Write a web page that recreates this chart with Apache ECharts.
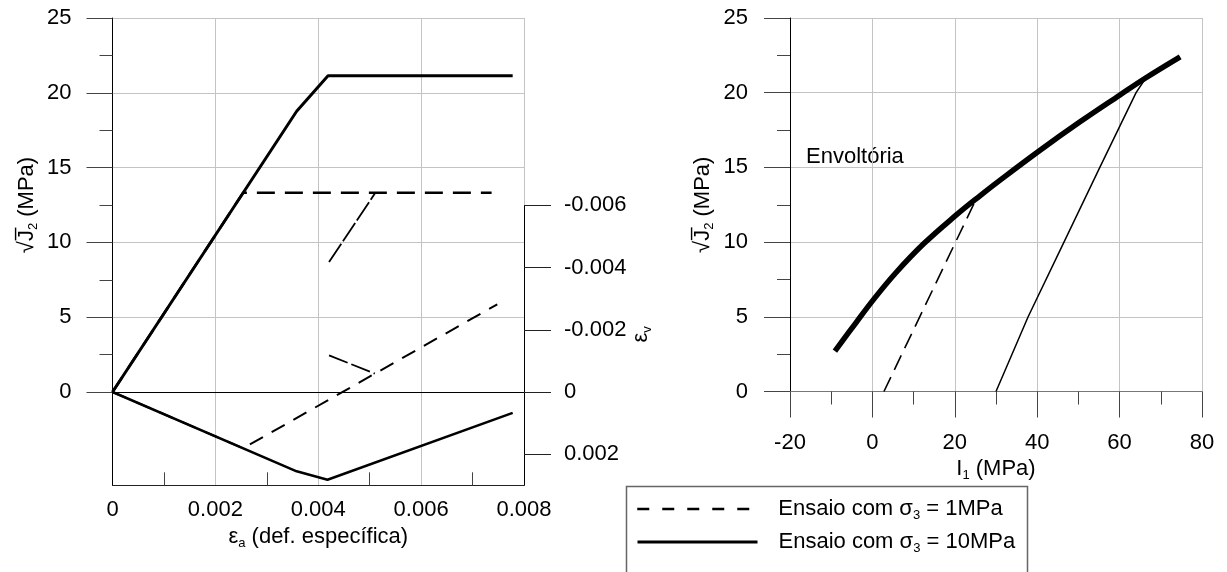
<!DOCTYPE html>
<html><head><meta charset="utf-8">
<script src="https://cdn.jsdelivr.net/npm/echarts@6/dist/echarts.min.js"></script>
<style>html,body{margin:0;padding:0;background:#fff}#c{width:1227px;height:572px}</style>
</head><body><div id="c"></div>
<script>
// ---- Left chart: sqrt(J2) vs axial strain (left axis) ----
const j2Test1Strain  = [0, 0.00254, 0.00737];
const j2Test1Value   = [0, 13.32, 13.32];
const j2Test1bStrain = [0.00421, 0.0051];
const j2Test1bValue  = [8.69, 13.27];
const j2Test10Strain = [0, 0.00358, 0.00419, 0.00778];
const j2Test10Value  = [0, 18.77, 21.14, 21.14];
// ---- Left chart: volumetric strain (right axis, inverted) ----
const evTest1Strain  = [0, 0.00254, 0.00748];
const evTest1Value   = [0, 0.00181, -0.00282];
const evTest1bStrain = [0.00421, 0.0051];
const evTest1bValue  = [-0.00118, -0.00059];
const evTest10Strain = [0, 0.00358, 0.00418, 0.00778];
const evTest10Value  = [0, 0.00255, 0.00282, 0.00067];
const evTicks = [-0.006, -0.004, -0.002, 0, 0.002];
// ---- Right chart: I1 vs sqrt(J2) ----
const envI1 = [-9.1, -4.0, 0.4, 5.7, 12.5, 20.3, 26.1, 31.0, 40.7, 50.4, 60.1, 66.4, 74.7];
const envJ2 = [2.7, 4.6, 6.2, 7.95, 9.9, 11.8, 13.1, 14.15, 16.15, 18.05, 19.85, 21.0, 22.4];
const path1I1 = [2.8, 25.4];
const path1J2 = [0, 13.0];
const path10I1 = [30, 37.8, 46.5, 55.2, 64.0, 66.4];
const path10J2 = [0, 5, 10, 15, 20, 21.0];
// ---- labels ----
const name1 = 'Ensaio com σ3 = 1MPa';
const name10 = 'Ensaio com σ3 = 10MPa';
const envLabel = 'Envoltória';

const zip = (a, b) => a.map((v, i) => [v, b[i]]);
const FONT = 'Liberation Sans, Arial, sans-serif';
const FS = 22;
const GRIDC = '#c4c4c4';
const TICKC = '#444';
const baseText = {fontFamily: FONT, fontSize: FS, color: '#000'};
const rich = {
  n: {fontFamily: FONT, fontSize: FS, color: '#000', lineHeight: 26},
  s: {fontFamily: FONT, fontSize: 13, color: '#000', lineHeight: 13, verticalAlign: 'bottom'},
  g: {fontFamily: FONT, fontSize: FS, color: '#000', lineHeight: 26}
};
const sqrtJ2Name = '{n|√J\u0305}{s|2}{n| (MPa)}';
const legendFmt = function (n) {
  const p = n.split('σ3');
  return '{n|' + p[0] + '}{g|σ}{s|3}{n|' + p[1] + '}';
};
const legendBase = {
  orient: 'vertical', left: 636, padding: 0,
  itemWidth: 120, itemHeight: 14, itemGap: 9,
  formatter: legendFmt,
  textStyle: {padding: [0, 0, 0, 16], rich: rich}
};

const option = {
  animation: false,
  backgroundColor: '#fff',
  textStyle: {fontFamily: FONT},
  grid: [
    {left: 112.5, right: 703, top: 18, height: 374},
    {left: 112.5, right: 703, top: 205.4, height: 279.9},
    {left: 790, right: 25, top: 18, height: 373.5}
  ],
  xAxis: [
    {gridIndex: 0, type: 'value', min: 0, max: 0.008, interval: 0.002,
     axisLine: {show: true, onZero: false, lineStyle: {color: '#000', width: 1}},
     axisTick: {show: false}, axisLabel: {show: false},
     splitLine: {show: true, lineStyle: {color: GRIDC, width: 1}}},
    {gridIndex: 1, type: 'value', min: 0, max: 0.008, interval: 0.002, position: 'bottom',
     name: '{g|ε}{s|a}{n| (def. específica)}', nameLocation: 'middle', nameGap: 39,
     nameTextStyle: {rich: rich},
     axisLine: {show: true, onZero: false, lineStyle: {color: '#222', width: 1}},
     axisTick: {show: false, inside: true},
     minorTick: {show: true, splitNumber: 2, length: 13, lineStyle: {color: TICKC, width: 1}},
     axisLabel: Object.assign({margin: 14}, baseText),
     splitLine: {show: true, lineStyle: {color: GRIDC, width: 1}}},
    {gridIndex: 2, type: 'value', min: -20, max: 80, interval: 20,
     name: '{n|I}{s|1}{n| (MPa)}', nameLocation: 'middle', nameGap: 64,
     nameTextStyle: {rich: rich},
     axisLine: {show: true, onZero: false, lineStyle: {color: '#777', width: 1}},
     axisTick: {show: true, length: 26, lineStyle: {color: TICKC}},
     minorTick: {show: true, splitNumber: 2, length: 13, lineStyle: {color: TICKC, width: 1}},
     axisLabel: Object.assign({margin: 40}, baseText),
     splitLine: {show: true, lineStyle: {color: GRIDC, width: 1}}}
  ],
  yAxis: [
    {gridIndex: 0, type: 'value', min: 0, max: 25, interval: 5,
     name: sqrtJ2Name, nameLocation: 'middle', nameGap: 73, nameRotate: 90,
     nameTextStyle: {rich: rich},
     axisLine: {show: true, onZero: false, lineStyle: {color: '#000'}},
     axisTick: {show: true, length: 26, lineStyle: {color: TICKC}},
     minorTick: {show: true, splitNumber: 2, length: 13, lineStyle: {color: TICKC}},
     axisLabel: Object.assign({margin: 41}, baseText),
     splitLine: {show: true, lineStyle: {color: GRIDC, width: 1}}},
    {gridIndex: 1, type: 'value', position: 'right', inverse: true, min: -0.006, max: 0.003,
     name: '{g|ε}{s|v}', nameLocation: 'middle', nameGap: 89, nameRotate: 90,
     nameTextStyle: {rich: rich, padding: [0, 0, 0, 22]},
     axisLine: {show: true, onZero: false, lineStyle: {color: '#000'}},
     axisTick: {show: true, length: 27, lineStyle: {color: '#222'}, customValues: evTicks},
     axisLabel: Object.assign({margin: 40, align: 'left', customValues: evTicks}, baseText),
     splitLine: {show: false}},
    {gridIndex: 1, type: 'value', position: 'left', inverse: true, min: -0.006, max: 0.003,
     axisLine: {show: true, onZero: false, lineStyle: {color: '#000'}},
     axisTick: {show: false}, axisLabel: {show: false}, splitLine: {show: false}},
    {gridIndex: 2, type: 'value', min: 0, max: 25, interval: 5,
     name: sqrtJ2Name, nameLocation: 'middle', nameGap: 74, nameRotate: 90,
     nameTextStyle: {rich: rich},
     axisLine: {show: true, onZero: false, lineStyle: {color: '#000'}},
     axisTick: {show: true, length: 26, lineStyle: {color: TICKC}},
     minorTick: {show: true, splitNumber: 2, length: 13, lineStyle: {color: TICKC}},
     axisLabel: Object.assign({margin: 42}, baseText),
     splitLine: {show: true, lineStyle: {color: GRIDC, width: 1}}}
  ],
  legend: [
    Object.assign({top: 498, data: [{name: name1, itemStyle: {opacity: 0},
      lineStyle: {type: [12, 13], width: 2.5, color: '#000', opacity: 1}}]}, legendBase),
    Object.assign({top: 531, data: [{name: name10, itemStyle: {opacity: 0},
      lineStyle: {type: 'solid', width: 3, color: '#000', opacity: 1}}]}, legendBase)
  ],
  graphic: [
    {type: 'rect', left: 624, top: 484, silent: true,
     shape: {width: 401, height: 120}, style: {fill: 'none', stroke: '#666', lineWidth: 1.5}},
    {type: 'text', left: 806, top: 146, style: {text: envLabel, font: FS + 'px ' + FONT, fill: '#000'}}
  ],
  series: [
    {type: 'line', name: name1, xAxisIndex: 0, yAxisIndex: 0, symbol: 'none', itemStyle: {color: '#000'},
     data: zip(j2Test1Strain, j2Test1Value), lineStyle: {color: '#000', width: 2.5, type: [18, 10]}},
    {type: 'line', name: name1, xAxisIndex: 0, yAxisIndex: 0, symbol: 'none', itemStyle: {color: '#000'},
     data: zip(j2Test1bStrain, j2Test1bValue), lineStyle: {color: '#000', width: 1.8, type: [22, 3]}},
    {type: 'line', name: name10, xAxisIndex: 0, yAxisIndex: 0, symbol: 'none', itemStyle: {color: '#000'},
     data: zip(j2Test10Strain, j2Test10Value), lineStyle: {color: '#000', width: 3}},
    {type: 'line', name: name1, xAxisIndex: 1, yAxisIndex: 1, symbol: 'none', itemStyle: {color: '#000'},
     data: zip(evTest1Strain, evTest1Value), lineStyle: {color: '#000', width: 2, type: [15, 10]}},
    {type: 'line', name: name1, xAxisIndex: 1, yAxisIndex: 1, symbol: 'none', itemStyle: {color: '#000'},
     data: zip(evTest1bStrain, evTest1bValue), lineStyle: {color: '#000', width: 1.8, type: [20, 4]}},
    {type: 'line', name: name10, xAxisIndex: 1, yAxisIndex: 1, symbol: 'none', itemStyle: {color: '#000'},
     data: zip(evTest10Strain, evTest10Value), lineStyle: {color: '#000', width: 2.5}},
    {type: 'line', name: envLabel, xAxisIndex: 2, yAxisIndex: 3, symbol: 'none', smooth: 0.4, itemStyle: {color: '#000'},
     data: zip(envI1, envJ2), lineStyle: {color: '#000', width: 5.5}},
    {type: 'line', name: name1, xAxisIndex: 2, yAxisIndex: 3, symbol: 'none', itemStyle: {color: '#000'},
     data: zip(path1I1, path1J2), lineStyle: {color: '#000', width: 1.6, type: [16, 8]}},
    {type: 'line', name: name10, xAxisIndex: 2, yAxisIndex: 3, symbol: 'none', itemStyle: {color: '#000'},
     data: zip(path10I1, path10J2), lineStyle: {color: '#000', width: 1.5}}
  ]
};
const chart = echarts.init(document.getElementById('c'), null, {renderer: 'canvas'});
chart.setOption(option);
</script></body></html>
